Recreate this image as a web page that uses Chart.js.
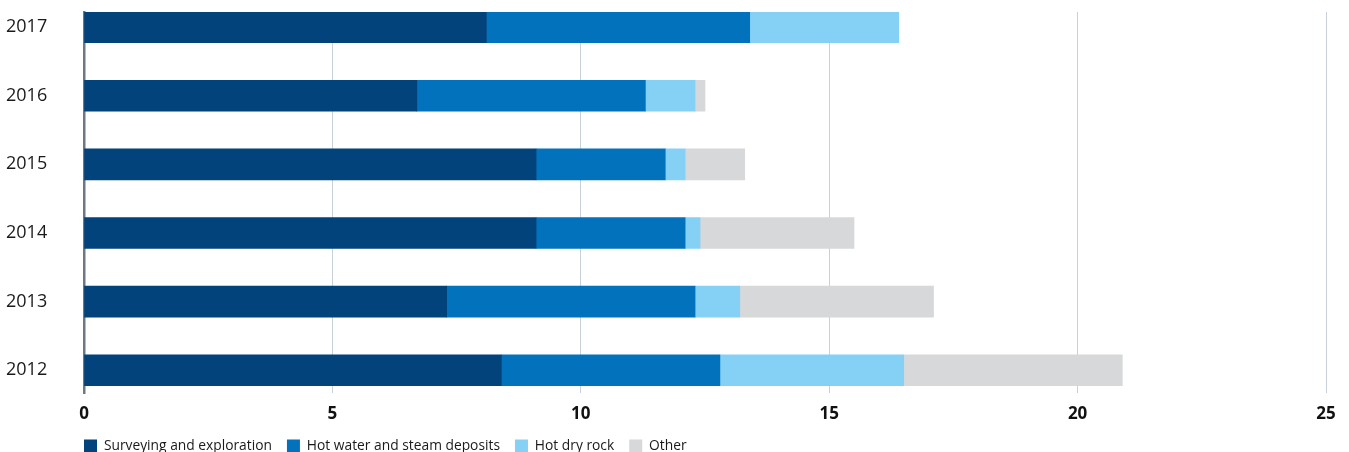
<!DOCTYPE html>
<html>
<head>
<meta charset="utf-8">
<script src="https://cdn.jsdelivr.net/npm/chart.js@4/dist/chart.umd.min.js"></script>
<style>
  html, body { margin: 0; padding: 0; background: #fff; overflow: hidden; }
  #wrap { position: relative; width: 1349px; height: 463px; }
</style>
</head>
<body>
<div id="wrap"><canvas id="chart"></canvas></div>
<script>
const years = [2017, 2016, 2015, 2014, 2013, 2012];
const surveying = [8.1, 6.7, 9.1, 9.1, 7.3, 8.4];
const hotWater = [5.3, 4.6, 2.6, 3.0, 5.0, 4.4];
const hotDryRock = [3.0, 1.0, 0.4, 0.3, 0.9, 3.7];
const other = [0, 0.2, 1.2, 3.1, 3.9, 4.4];
const xTicks = [0, 5, 10, 15, 20, 25];

const FONT = "'Open Sans', 'Noto Sans', sans-serif";
const LEGEND_PAD = 15;

// start the legend row flush with the plot's left edge
const legendShift = {
  id: "legendShift",
  afterLayout(chart) {
    if (chart.legend) {
      chart.legend.left -= LEGEND_PAD;
      chart.legend.right -= LEGEND_PAD;
    }
  },
};

const series = [
  { label: "Surveying and exploration", data: surveying, color: "#01437a" },
  { label: "Hot water and steam deposits", data: hotWater, color: "#0272bc" },
  { label: "Hot dry rock", data: hotDryRock, color: "#85d1f5" },
  { label: "Other", data: other, color: "#d7d8da" },
];

new Chart(document.getElementById("chart"), {
  type: "bar",
  data: {
    labels: years,
    datasets: series.map((s) => ({
      label: s.label,
      data: s.data,
      backgroundColor: s.color,
      borderWidth: 0,
      barThickness: 31,
    })),
  },
  plugins: [legendShift],
  options: {
    indexAxis: "y",
    responsive: true,
    maintainAspectRatio: false,
    animation: false,
    layout: { padding: { top: 12, right: 23, left: 6, bottom: 0 } },
    plugins: {
      tooltip: { enabled: false },
      legend: {
        position: "bottom",
        align: "start",
        fullSize: false,
        labels: {
          boxWidth: 13,
          boxHeight: 13,
          padding: LEGEND_PAD,
          color: "#1a1a1a",
          font: { family: FONT, size: 13.8 },
        },
      },
    },
    scales: {
      x: {
        type: "linear",
        stacked: true,
        min: 0,
        max: 25,
        afterFit: (scale) => { scale.height = 31; },
        afterBuildTicks: (scale) => { scale.ticks = xTicks.map((v) => ({ value: v })); },
        ticks: {
          padding: 11,
          color: "#111",
          font: { family: FONT, size: 17, weight: "bold" },
        },
        grid: { color: "#c8d1da", lineWidth: 1, drawTicks: false },
        border: { display: false },
      },
      y: {
        type: "linear",
        stacked: true,
        offset: false,
        min: 2011.665,
        max: 2017.22,
        afterFit: (scale) => { scale.width = 78; },
        afterBuildTicks: (scale) => { scale.ticks = years.map((v) => ({ value: v })); },
        ticks: {
          padding: 0,
          crossAlign: "far",
          color: "#1a1a1a",
          font: { family: FONT, size: 18 },
          callback: (v) => String(v),
        },
        grid: { display: false, drawTicks: false },
        border: { display: true, color: "#6e7884", width: 2.5 },
      },
    },
  },
});
</script>
</body>
</html>
